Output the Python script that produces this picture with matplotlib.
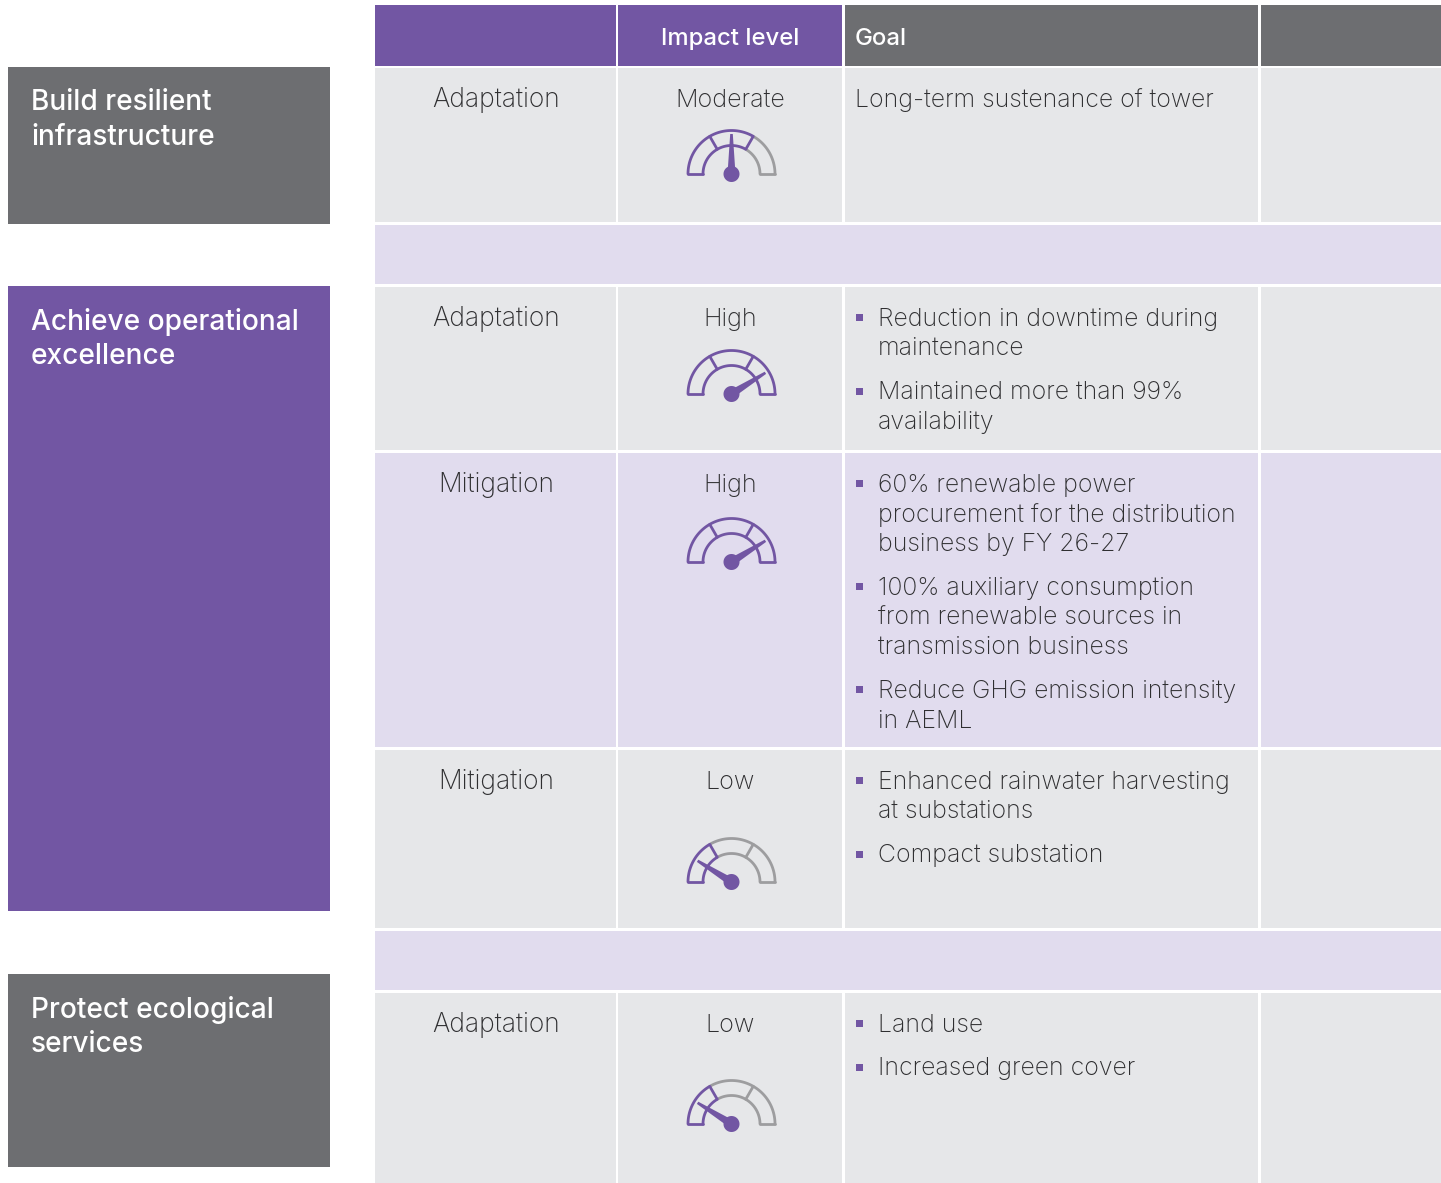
import numpy as np
import matplotlib
matplotlib.use('Agg')
import matplotlib.pyplot as plt
from matplotlib.patches import Rectangle

W, H = 1441, 1183
FONT = 'Inter'
PURPLE = '#7256a3'
DARK = '#6d6e71'
GREY = '#e6e7e9'
LAV = '#e1dcee'
TRACK = '#9d9d9f'
INK = '#2f2f31'
BODY = 17.9

# data
pillars = ['Build resilient\ninfrastructure', 'Achieve operational\nexcellence',
           'Protect ecological\nservices']
headers = ['', 'Impact level', 'Goal', '']
types = ['Adaptation', None, 'Adaptation', 'Mitigation', 'Mitigation', None, 'Adaptation']
levels = ['Moderate', None, 'High', 'High', 'Low', None, 'Low']
goals = [
    ['Long-term sustenance of tower'],
    [],
    ['Reduction in downtime during\nmaintenance', 'Maintained more than 99%\navailability'],
    ['60% renewable power\nprocurement for the distribution\nbusiness by FY 26-27',
     '100% auxiliary consumption\nfrom renewable sources in\ntransmission business',
     'Reduce GHG emission intensity\nin AEML'],
    ['Enhanced rainwater harvesting\nat substations', 'Compact substation'],
    [],
    ['Land use', 'Increased green cover'],
]
needle_angle = {'Low': 148, 'Moderate': 90, 'High': 32}
lit_segments = {'Low': 1, 'Moderate': 2, 'High': 3}

# layout, in pixels of the picture
col_edges = [(375, 616), (618, 842), (845, 1258), (1261, 1441)]
row_edges = [(68, 222), (225, 284), (287, 450), (453, 747), (750, 928), (931, 990), (993, 1183)]
row_fill = [GREY, LAV, GREY, LAV, GREY, LAV, GREY]
pillar_boxes = [(67, 224, DARK), (286, 911, PURPLE), (974, 1167, DARK)]
gauge_y = [174, None, 394, 562, 882, None, 1124]
GAUGE_X = 731.5
LINE = 29.6
GAP = 44

fig = plt.figure(figsize=(W / 100, H / 100), dpi=100)
ax = fig.add_axes([0, 0, 1, 1])
ax.set_xlim(0, W)
ax.set_ylim(H, 0)
ax.axis('off')


def box(x0, x1, y0, y1, color):
    ax.add_patch(Rectangle((x0, y0), x1 - x0, y1 - y0, fc=color, ec='none'))


def arc(cx, cy, r, a0, a1):
    t = np.radians(np.linspace(a0, a1, 60))
    return cx + r * np.cos(t), cy - r * np.sin(t)


def gauge(cx, cy, level):
    r0, r1 = 28.5, 43.5
    lit = lit_segments[level]
    lw = 2.0
    for i in [2, 1, 0]:
        a0, a1 = 180 - 60 * i, 120 - 60 * i
        c = PURPLE if i < lit else TRACK
        xo, yo = arc(cx, cy, r1, a0, a1)
        xi, yi = arc(cx, cy, r0, a0, a1)
        ax.plot(xo, yo, color=c, lw=lw, solid_capstyle='round')
        ax.plot(xi, yi, color=c, lw=lw, solid_capstyle='round')
        for a in (a0, a1):
            if a in (180, 0):
                ca = np.cos(np.radians(a))
                ax.plot([cx + r0 * ca, cx + r1 * ca], [cy, cy], color=c, lw=lw,
                        solid_capstyle='round')
            elif a == a1 and i < 2:
                ca, sa = np.cos(np.radians(a)), np.sin(np.radians(a))
                ax.plot([cx + r0 * ca, cx + r1 * ca], [cy - r0 * sa, cy - r1 * sa],
                        color=c, lw=lw, solid_capstyle='butt', zorder=3)
    # needle, narrow at the tip
    a = np.radians(needle_angle[level])
    d = np.array([np.cos(a), -np.sin(a)])
    n = np.array([-d[1], d[0]])
    base = np.array([cx, cy])
    tip = base + d * 40
    pts = np.array([base + n * 4, tip + n * 1.3, tip - n * 1.3, base - n * 4])
    ax.fill(pts[:, 0], pts[:, 1], color=PURPLE, lw=0, zorder=4)
    th = np.linspace(0, 2 * np.pi, 60)
    ax.fill(cx + 8 * np.cos(th), cy + 8 * np.sin(th), color=PURPLE, lw=0, zorder=5)


# header strip
box(*col_edges[0], 5, 66, PURPLE)
box(*col_edges[1], 5, 66, PURPLE)
box(*col_edges[2], 5, 66, DARK)
box(*col_edges[3], 5, 66, DARK)
ax.text(730, 38.5, headers[1], color='white', fontsize=17.2, family=FONT, weight='medium',
        ha='center', va='center')
ax.text(855, 38.5, headers[2], color='white', fontsize=17.2, family=FONT, weight='medium',
        ha='left', va='center')

# pillars on the left
for (y0, y1, c), name in zip(pillar_boxes, pillars):
    box(8, 330, y0, y1, c)
    l0, l1 = name.split('\n')
    ax.text(31, y0 + 35.5, l0, color='white', fontsize=20.2, family=FONT, weight='medium', va='center')
    ax.text(31, y0 + 70, l1, color='white', fontsize=20.2, family=FONT, weight='medium', va='center')

# table body
for i, (y0, y1) in enumerate(row_edges):
    if types[i] is None:
        # spacer rows run across all the columns
        box(col_edges[0][0], col_edges[-1][1], y0, y1, row_fill[i])
        continue
    for x0, x1 in col_edges:
        box(x0, x1, y0, y1, row_fill[i])
    ty = y0 + 32
    ax.text(496, ty, types[i], color=INK, fontsize=19, family=FONT, weight='light',
            ha='center', va='center')
    ax.text(730, ty, levels[i], color=INK, fontsize=18.1, family=FONT, weight='light',
            ha='center', va='center')
    gauge(GAUGE_X, gauge_y[i], levels[i])

    y = ty
    bullets = len(goals[i]) > 1
    for g in goals[i]:
        lines = g.split('\n')
        if bullets:
            box(856, 863, y - 5, y + 2, PURPLE)
        for ln in lines:
            ax.text(878 if bullets else 855, y, ln, color=INK, fontsize=BODY, family=FONT,
                    weight='light', va='center')
            y += LINE
        y += GAP - LINE

fig.savefig('out.png', dpi=100)
